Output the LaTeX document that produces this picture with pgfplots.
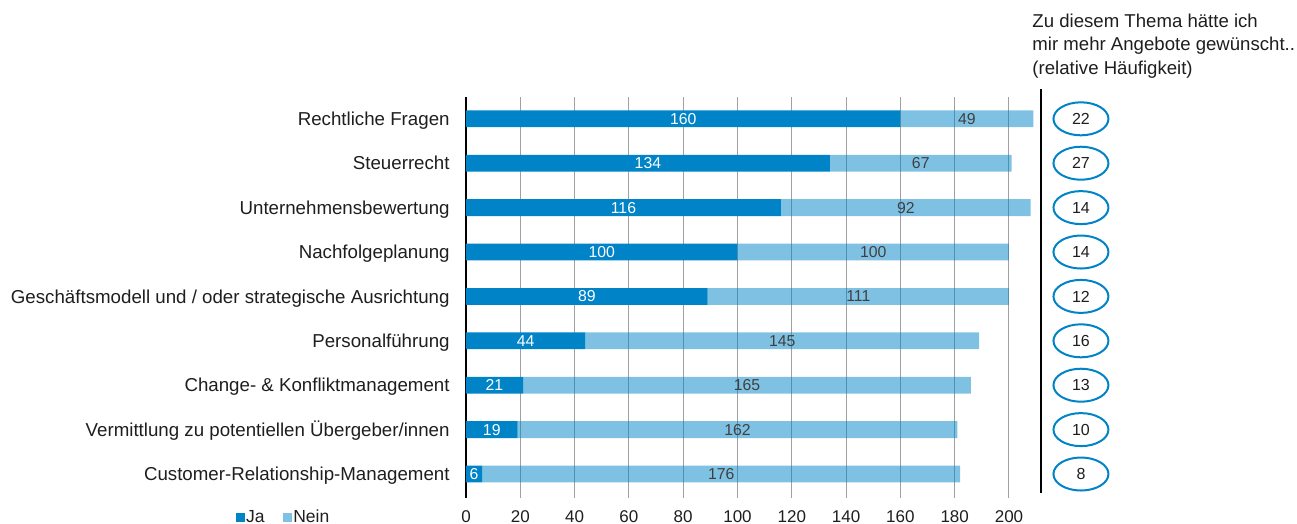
\documentclass[border=0pt]{standalone}
\usepackage{pgfplots}
\pgfplotsset{compat=1.18}
\usepackage{pgfplotstable}
\usepackage{fontspec}
\setmainfont{Liberation Sans}
\usetikzlibrary{shapes.geometric}
\definecolor{cblue}{RGB}{0,131,199}
\definecolor{ctext}{RGB}{30,30,30}
\definecolor{cnum}{RGB}{64,64,64}
\definecolor{cgrid}{RGB}{160,160,160}
\pgfplotstableread{
k Ja Nein
8 160 49
7 134 67
6 116 92
5 100 100
4 89 111
3 44 145
2 21 165
1 19 162
0 6 176
}\data
\begin{document}
\begin{tikzpicture}
\useasboundingbox (-233pt,-13pt) rectangle (415.5pt,249pt);
\pgfplotsset{common/.style={at={(0pt,0pt)}, anchor=south west, scale only axis,
  x=1.3575pt, y=22.2pt, xmin=0, xmax=210, ymin=-0.54, ymax=8.49, clip=false},
  sqlegend/.style={legend image code/.code={\fill (0pt,-2.1pt) rectangle (4.25pt,2.1pt);}}}
\begin{axis}[common,
  xbar stacked, bar width=8.4pt,
  axis lines*=left,
  x axis line style={draw=none},
  y axis line style={draw=black, line width=0.6pt},
  major tick length=0pt,
  /pgf/number format/assume math mode=true,
  xtick={0,20,...,200}, ytick={0,...,8},
  yticklabels={Customer-Relationship-Management, Vermittlung zu potentiellen Übergeber/innen, Change- \& Konfliktmanagement, Personalführung, Geschäftsmodell und / oder strategische Ausrichtung, Nachfolgeplanung, Unternehmensbewertung, Steuerrecht, Rechtliche Fragen},
  yticklabel style={anchor=base east, inner sep=0pt, xshift=-8pt, yshift=-3.35pt, font=\fontsize{9.35}{11}\selectfont, text=ctext},
  xticklabel style={anchor=north, inner sep=0pt, yshift=-6.2pt, font=\fontsize{8.5}{10}\selectfont, text=ctext},
  xmajorgrids, grid style={draw=cgrid, line width=0.5pt},
  legend columns=2,
  legend style={at={(-0.404,-0.0486)}, anchor=west, draw=none, fill=none, inner sep=0pt,
    font=\fontsize{8.75}{10}\selectfont, text=ctext, nodes={inner sep=0.8pt},
    /tikz/every even column/.append style={column sep=8.5pt}},
  legend cell align=left,
]
\addplot[fill=cblue, draw=none, sqlegend,
  nodes near coords, point meta=explicit symbolic,
  every node near coord/.append style={anchor=center, text=white, font=\fontsize{7.9}{9}\selectfont}]
  table[x=Ja, y=k, meta=Ja] {\data};
\addplot[fill=cblue, fill opacity=0.5, draw=none, sqlegend,
  nodes near coords, point meta=explicit symbolic,
  every node near coord/.append style={anchor=center, text=cnum, text opacity=1, fill opacity=1, font=\fontsize{7.9}{9}\selectfont}]
  table[x=Nein, y=k, meta=Nein] {\data};
\legend{Ja, Nein}
\end{axis}
\begin{axis}[common, hide axis]
\addplot[draw=none, mark=none, nodes near coords, point meta=explicit symbolic,
  every node near coord/.style={anchor=center, ellipse, draw=cblue, line width=1pt, minimum width=27.5pt, minimum height=16.5pt, inner sep=0pt, text=ctext, font=\fontsize{8}{9}\selectfont}]
  coordinates {(226.5,8) [22] (226.5,7) [27] (226.5,6) [14] (226.5,5) [14] (226.5,4) [12] (226.5,3) [16] (226.5,2) [13] (226.5,1) [10] (226.5,0) [8]};
\draw[line width=1pt, black] (axis cs:211.7,8.67) -- (axis cs:211.7,-0.43);
\node[anchor=north west, align=left, inner sep=0pt, font=\fontsize{9.3}{11.75}\selectfont, text=ctext] at (axis cs:208.5,10.37) {Zu diesem Thema hätte ich\\mir mehr Angebote gewünscht..\\(relative Häufigkeit)};
\end{axis}
\end{tikzpicture}
\end{document}
